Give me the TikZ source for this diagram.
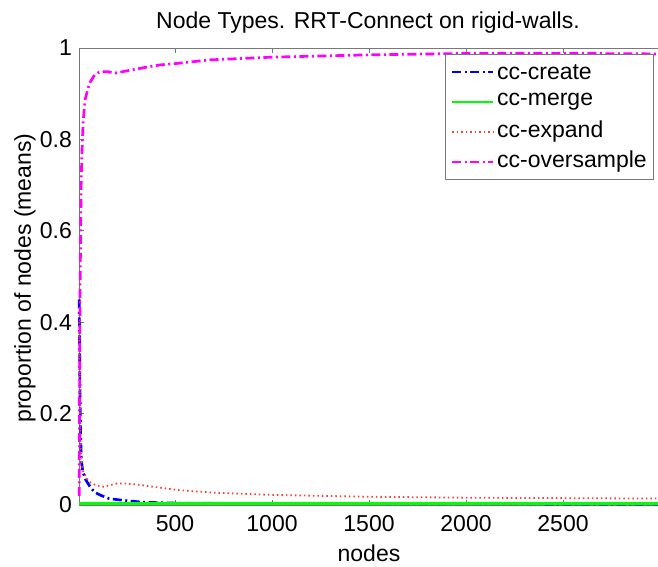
\documentclass[tikz,border=0pt]{standalone}
\usepackage{fontspec}
\setmainfont{Liberation Sans}
\usetikzlibrary{positioning}
\definecolor{axgray}{RGB}{120,120,120}
\definecolor{ccblue}{RGB}{0,0,255}
\definecolor{ccgreen}{RGB}{0,255,0}
\definecolor{ccred}{RGB}{255,60,60}
\definecolor{ccmag}{RGB}{255,0,255}

\begin{document}
\begin{tikzpicture}[x=1pt, y=1pt, every node/.style={font=\fontsize{23}{27}\selectfont, inner sep=0pt},
  ax/.style={draw=axgray, line width=0.9pt},
  dd/.style={line width=2.7pt, dash pattern=on 9pt off 3.5pt on 2pt off 3.5pt},
  dt/.style={line width=1.8pt, dash pattern=on 1.5pt off 3pt},
  sol/.style={line width=2.7pt}]
\useasboundingbox (0,0) rectangle (658,567);
% axes box (right side runs off the page)
\draw[ax] (662,519) -- (79,519) -- (79,62) -- (662,62);
\node (title) at (368,544) {Node Types. RRT-Connect on rigid-walls.};
\node[rotate=90] (ylabel) at (25,289) {proportion of nodes (means)};
\node (xlabel) at (369,14) {nodes};
\foreach \v [count=\i] in {0,0.2,0.4,0.6,0.8,1}
  \node[anchor=east] (ytk\i) at (72,{62+457*\v}) {\v};
\begin{scope}[shift={(78.03,62)}, x=0.194pt, y=457pt]
  \foreach \n in {500,1000,...,2500} {
    \draw[ax] (\n,0) -- +(0pt,5pt);
    \draw[ax] (\n,1) -- +(0pt,-5pt);
    \path (\n,0) ++(0pt,-19pt) node (xtk\n) {\n};
  }
  \foreach \v in {0.2,0.4,0.6,0.8}
    \draw[ax] (5,\v) -- +(5pt,0pt);
  % cc-create
  \draw[dd, ccblue] plot coordinates {(6,0.45) (10,0.25) (14,0.14) (18,0.095) (25,0.072) (40,0.055) (62,0.04) (85,0.028) (113,0.022) (160,0.014) (216,0.011) (335,0.006) (510,0.004) (1000,0.003) (1500,0.003) (3000,0.002)};
  % cc-merge
  \draw[sol, ccgreen] (6,0.003) -- (3000,0.003);
  % cc-expand
  \draw[dt, ccred] plot coordinates {(6,0.4) (10,0.2) (14,0.12) (20,0.09) (25,0.075) (45,0.058) (62,0.05) (93,0.043) (130,0.04) (160,0.043) (200,0.047) (240,0.047) (300,0.045) (420,0.038) (530,0.032) (700,0.027) (1000,0.022) (1500,0.018) (2000,0.016) (3000,0.014)};
  % cc-oversample
  \draw[dd, ccmag] plot coordinates {(6,0.02) (10,0.45) (16,0.7) (20,0.77) (26,0.836) (36,0.886) (50,0.91) (62,0.925) (87,0.942) (113,0.948) (154,0.948) (191,0.945) (252,0.95) (340,0.957) (423,0.963) (505,0.966) (680,0.974) (1005,0.98) (1500,0.985) (1979,0.988) (2600,0.988) (3000,0.987)};
\end{scope}
% legend
\draw[ax, fill=white] (445,388) rectangle (653,513);
\node[anchor=west] (lcreate) at (497,495) {cc-create};
\node[anchor=west] (lmerge) at (497,465) {cc-merge};
\node[anchor=west] (lexpand) at (497,435) {cc-expand};
\node[anchor=west] (lover) at (497,405) {cc-oversample};
\draw[dd, ccblue] ([xshift=-45pt]lcreate.west) -- ([xshift=-4pt]lcreate.west);
\draw[sol, ccgreen] ([xshift=-45pt]lmerge.west) -- ([xshift=-4pt]lmerge.west);
\draw[dt, ccred] ([xshift=-45pt]lexpand.west) -- ([xshift=-4pt]lexpand.west);
\draw[dd, ccmag] ([xshift=-45pt]lover.west) -- ([xshift=-4pt]lover.west);
\end{tikzpicture}
\end{document}
